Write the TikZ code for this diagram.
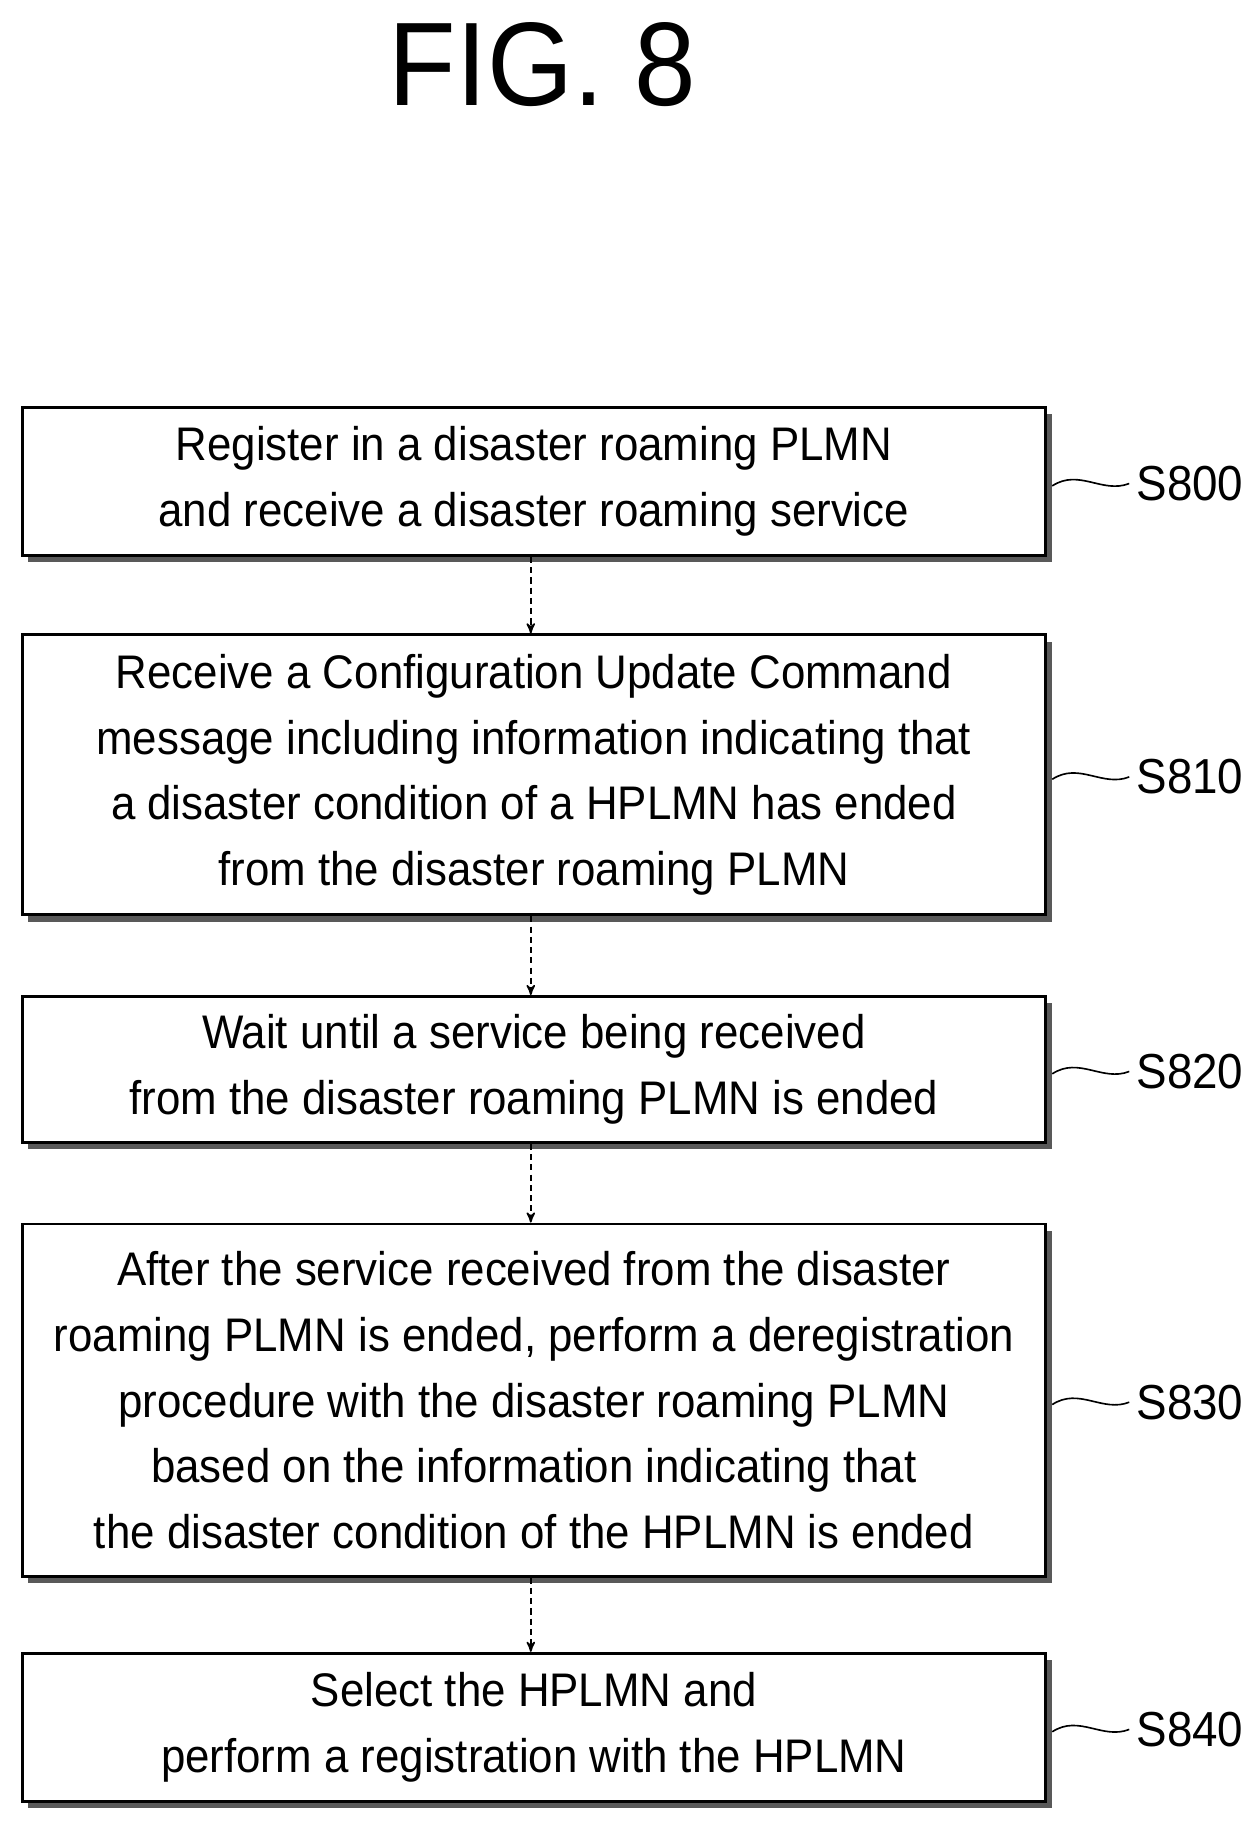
\documentclass[tikz,border=0pt]{standalone}
\usepackage{fontspec}
\setmainfont[FakeStretch=0.93]{Liberation Sans}
\usetikzlibrary{positioning, arrows, decorations.pathmorphing}
\tikzset{%
  stepbox/.style={
    draw,
    line width=1.4pt,
    fill=white,
    align=center,
    font=\fontsize{23}{32}\selectfont,
    inner sep=0pt},
  shade box/.style={
    fill=black!65},
  flow/.style={
    draw,
    ->,
    >=stealth',
    thick,
    densely dashed},
  tag/.style={
    font=\fontsize{24}{26}\selectfont},
  squiggle/.style={
    thick}
}

\begin{document}
\begin{tikzpicture}[x=0.02cm, y=-0.02cm]
    \useasboundingbox (0,0) rectangle (1070,1567);

    \node[font=\fontsize{58}{60}\selectfont] (title) at (465,55) {FIG. 8};

    % step boxes: name, top, bottom, text, label
    \foreach \name/\top/\bot/\txt/\lab in {
        s800/348/475/{Register in a disaster roaming PLMN\\and receive a disaster roaming service}/S800,
        s810/543/783/{Receive a Configuration Update Command\\message including information indicating that\\a disaster condition of a HPLMN has ended\\from the disaster roaming PLMN}/S810,
        s820/853/978/{Wait until a service being received\\from the disaster roaming PLMN is ended}/S820,
        s830/1048/1350/{After the service received from the disaster\\roaming PLMN is ended, perform a deregistration\\procedure with the disaster roaming PLMN\\based on the information indicating that\\the disaster condition of the HPLMN is ended}/S830,
        s840/1416/1543/{Select the HPLMN and\\perform a registration with the HPLMN}/S840} {
      \fill[shade box] (24,\top+7) rectangle (902,\bot+7);
      \node[stepbox, minimum width=17.54cm, minimum height={(\bot-\top)*0.02cm},
        anchor=north west] (\name) at (18,\top) {\txt};
      \node[tag, anchor=west] (\name-lab) at (968,{(\top+\bot)/2+3}) {\lab};
      \coordinate (\name-r) at (902,{(\top+\bot)/2+5});
      \draw[squiggle] (\name-r) .. controls (925,{(\top+\bot)/2-10}) and (945,{(\top+\bot)/2+12}) .. (\name-lab.west);
    }

    \draw
      (s800.south -| 455,0) edge[flow] (s810.north -| 455,0)
      (s810.south -| 455,0) edge[flow] (s820.north -| 455,0)
      (s820.south -| 455,0) edge[flow] (s830.north -| 455,0)
      (s830.south -| 455,0) edge[flow] (s840.north -| 455,0)
    ;
\end{tikzpicture}
\end{document}
